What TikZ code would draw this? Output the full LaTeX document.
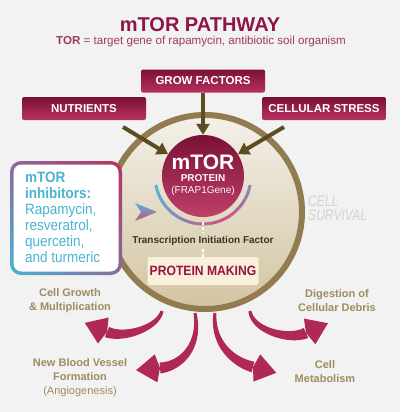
\documentclass[tikz,border=0pt]{standalone}
\usepackage{fontspec}
\setmainfont{Liberation Sans}
\newfontfamily\narrowf[FakeStretch=0.9]{Liberation Sans}
\newfontfamily\condf[FakeStretch=0.78]{Liberation Sans}
\usetikzlibrary{arrows.meta,calc,shadings}
\definecolor{crim}{HTML}{8E1546}
\definecolor{crimL}{HTML}{B8325F}
\definecolor{crimD}{HTML}{7A1036}
\definecolor{bg}{HTML}{F2F2F2}
\definecolor{ringc}{HTML}{917B4F}
\definecolor{fillTop}{HTML}{F4F1EA}
\definecolor{fillBot}{HTML}{D3C4A1}
\definecolor{brownarrow}{HTML}{5C4C22}
\definecolor{tanc}{HTML}{9F8C60}
\definecolor{cyanT}{HTML}{4AB3D3}
\definecolor{arcBlue}{HTML}{4DB6DB}
\definecolor{arcPink}{HTML}{D24C7E}
\definecolor{curveArr}{HTML}{B02856}
\definecolor{cream}{HTML}{F8F0DA}
\definecolor{textDark}{HTML}{3B3322}
\definecolor{survc}{HTML}{D4D3CE}
\definecolor{purp}{HTML}{8A6A9E}
\tikzset{
  factorbox/.style={top color=crimD, bottom color=crimL, minimum width=124pt, minimum height=23pt,
    rounded corners=2pt, text=white, font=\bfseries\fontsize{11.5}{13}\selectfont, inner sep=0pt},
  inarrow/.style={draw=brownarrow, line width=4pt, -{Triangle[width=13pt,length=11pt]}},
  arrowfill/.style={fill=curveArr},
  lbl/.style={font=\bfseries\fontsize{11}{14}\selectfont, text=tanc, align=center, inner sep=0pt},
  declare function={
    bzx(\t)=(1-\t)^3*\qax+3*(1-\t)^2*\t*\qbx+3*(1-\t)*\t^2*\qcx+\t^3*\qdx;
    bzy(\t)=(1-\t)^3*\qay+3*(1-\t)^2*\t*\qby+3*(1-\t)*\t^2*\qcy+\t^3*\qdy;
    dzx(\t)=(3*(1-\t)^2*(\qbx-\qax)+6*(1-\t)*\t*(\qcx-\qbx)+3*\t^2*(\qdx-\qcx))/10;
    dzy(\t)=(3*(1-\t)^2*(\qby-\qay)+6*(1-\t)*\t*(\qcy-\qby)+3*\t^2*(\qdy-\qcy))/10;
    dzn(\t)=sqrt(dzx(\t)^2+dzy(\t)^2);
    hw(\t)=1.5+4*\t;
  }
}
% tapered curved arrow: P0 P1 P2 P3 (P3 = back of head)
\newcommand\taperarrow[8]{%
  \def\qax{#1}\def\qay{#2}\def\qbx{#3}\def\qby{#4}\def\qcx{#5}\def\qcy{#6}\def\qdx{#7}\def\qdy{#8}%
  \fill[arrowfill] plot[domain=0:1,samples=30,variable=\t] ({bzx(\t)-hw(\t)*dzy(\t)/dzn(\t)},{bzy(\t)+hw(\t)*dzx(\t)/dzn(\t)})
     -- plot[domain=1:0,samples=30,variable=\t] ({bzx(\t)+hw(\t)*dzy(\t)/dzn(\t)},{bzy(\t)-hw(\t)*dzx(\t)/dzn(\t)}) -- cycle;
  \coordinate (hb) at ($(#7,#8)!-4pt!(#5,#6)$);
  \fill[arrowfill] ($(hb)!14pt!90:(#7,#8)$) -- ($(#7,#8)!-24pt!(#5,#6)$) -- ($(hb)!14pt!-90:(#7,#8)$) -- (#7,#8) -- cycle;
}
\begin{document}
\begin{tikzpicture}[x=1pt,y=-1pt]
\fill[bg] (0,0) rectangle (400,412);
\useasboundingbox (0,0) rectangle (400,412);
% title
\node[font=\bfseries\fontsize{20}{22}\selectfont, text=crim] (title) at (200,25) {mTOR PATHWAY};
\node[font=\fontsize{11.6}{13}\selectfont, text=crim!85!white] (sub) at (201,42) {\textbf{TOR} = target gene of rapamycin, antibiotic soil organism};
% big cell circle
\node[circle, minimum size=194pt, draw=ringc, line width=6pt, top color=fillTop, bottom color=fillBot, inner sep=0pt] (cell) at (205,212) {};
% factor boxes
\node[factorbox] (grow) at (203,81) {GROW FACTORS};
\node[factorbox] (nutr) at (84,108.5) {NUTRIENTS};
\node[factorbox] (stress) at (324,108.5) {CELLULAR STRESS};
% inner mTOR circle
\node[circle, minimum size=82pt, top color=crimD, bottom color=crimL!90!pink, inner sep=0pt] (mtor) at (203,176) {};
\node[font=\bfseries\fontsize{21}{22}\selectfont, text=white, inner sep=0pt] (mt) at (203,162) {mTOR};
\node[font=\bfseries\fontsize{10}{11}\selectfont, text=white!88!pink, inner sep=0pt] (prot) at (203,178) {PROTEIN};
\node[font=\fontsize{10}{11}\selectfont, text=white!85!pink, inner sep=0pt] (frap) at (203,191) {(FRAP1Gene)};
% input arrows
\coordinate (nA) at (123,127);
\coordinate (sA) at (284,127);
\draw[inarrow] (grow.south) -- (mtor.north);
\draw[inarrow] (nA) -- (mtor.148);
\draw[inarrow] (sA) -- (mtor.32);
% gradient arc
\foreach \i in {0,...,39}{
  \pgfmathsetmacro\aa{169-3.95*\i}
  \pgfmathsetmacro\ab{169-3.95*(\i+1)}
  \pgfmathsetmacro\p{ifthenelse(\i<26, \i/26*100, 100-(\i-26)/13*60)}
  \draw[line width=3pt, color=arcPink!\p!arcBlue] ($(203,176)+(\aa:48)$) arc[start angle=\aa, end angle=\ab, radius=48];
}
% pointer
\shade[top color=arcBlue, bottom color=arcPink] (135,203) -- (157,212) -- (135,221) -- (141,212) -- cycle;
% transcription and protein making
\node[font=\bfseries\fontsize{10}{11}\selectfont, text=textDark] (tif) at (203,241) {Transcription Initiation Factor};
\node[fill=cream, minimum width=111pt, minimum height=28pt, rounded corners=2pt, inner sep=0pt,
  font=\narrowf\bfseries\fontsize{13.5}{14}\selectfont, text=crim!90!red] (pm) at (203,271) {PROTEIN MAKING};
\draw[white, line width=2.5pt, dash pattern=on 3pt off 2pt] (203,222) -- (tif.north);
\draw[white, line width=2.5pt, dash pattern=on 3pt off 2pt] (tif.south) -- (pm.north);
% cell survival
\node[font=\condf\itshape\fontsize{15.5}{14}\selectfont, text=survc, align=left, anchor=west, inner sep=0pt] (surv) at (308,208) {CELL\\SURVIVAL};
% inhibitors box
\shade[rounded corners=11pt, upper left=purp, upper right=crimL, lower left=cyanT, lower right=purp] (10,161) rectangle (122,275);
\fill[white, rounded corners=8pt] (13.5,164.5) rectangle (118.5,271.5);
\node[font=\narrowf\fontsize{15}{16}\selectfont, text=cyanT, align=left, anchor=north west, inner sep=0pt] (inhib) at (25,171.5)
  {\textbf{mTOR}\\\textbf{inhibitors:}\\Rapamycin,\\resveratrol,\\quercetin,\\and turmeric};
% output labels
\node[lbl] (growth) at (70,301) {Cell Growth\\\& Multiplication};
\node[lbl] (digest) at (337,301) {Digestion of\\Cellular Debris};
\node[lbl] (vessel) at (80,378) {New Blood Vessel\\Formation\\{\mdseries (Angiogenesis)}};
\node[lbl] (metab) at (325,371.5) {Cell\\Metabolism};
% output arrows (tapered)
\taperarrow{162}{311}{158}{328}{124}{339}{107}{332}
\taperarrow{195}{313}{201}{345}{182}{366}{160}{368}
\taperarrow{215}{313}{212}{343}{233}{362}{253}{367}
\taperarrow{250}{311}{252}{330}{288}{341}{306}{333}
\end{tikzpicture}
\end{document}
